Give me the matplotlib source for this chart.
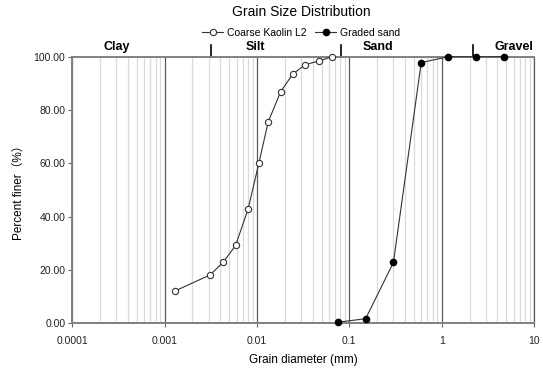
"""Grain size distribution curves (Coarse Kaolin L2 vs graded sand)."""

import matplotlib
matplotlib.use("Agg")
import matplotlib.pyplot as plt
import matplotlib.ticker as ticker
import numpy as np

plt.rcParams["font.family"] = ["Liberation Sans", "Noto Sans CJK SC", "DejaVu Sans"]

# Coarse Kaolin L2 (hydrometer)
kaolin_d = [0.00129, 0.00309, 0.00431, 0.00586, 0.00798, 0.0105,
            0.0132, 0.0180, 0.0245, 0.0333, 0.0471, 0.0652]
kaolin_pf = [12.1, 18.1, 22.9, 29.2, 42.7, 60.2,
             75.5, 86.8, 93.6, 97.0, 98.4, 100.0]

# Graded sand (sieve)
sand_d = [0.075, 0.15, 0.3, 0.6, 1.18, 2.36, 4.75]
sand_pf = [0.4, 1.7, 22.8, 97.8, 100.0, 100.0, 100.0]

# Soil classification zones
zone_names = ["Clay", "Silt", "Sand", "Gravel"]
zone_label_x = [0.000305, 0.0095, 0.203, 6.0]
zone_bounds = [0.0032, 0.082, 2.2]

x_ticks = [0.0001, 0.001, 0.01, 0.1, 1, 10]
x_ticklabels = ["0.0001", "0.001", "0.01", "0.1", "1", "10"]
y_ticks = [0, 20, 40, 60, 80, 100]


def main():
    fig = plt.figure(figsize=(5.5, 3.72), dpi=100)
    ax = fig.add_axes([0.1315, 0.131, 0.8395, 0.7166])

    ax.set_xscale("log")
    ax.set_xlim(0.0001, 10)
    ax.set_ylim(0, 100)

    # gridlines: dark majors, light minors (vertical only)
    ax.xaxis.set_minor_locator(ticker.LogLocator(base=10, subs=np.arange(2, 10)))
    ax.grid(which="major", axis="x", color="#5a5a5a", linewidth=0.9)
    ax.grid(which="minor", axis="x", color="#dadada", linewidth=0.9)
    ax.set_axisbelow(True)

    ax.plot(kaolin_d, kaolin_pf, color="#333333", linewidth=0.8,
            marker="o", markersize=4.5, markerfacecolor="white",
            markeredgecolor="#333333", markeredgewidth=0.8,
            label="Coarse Kaolin L2", clip_on=False, zorder=3)
    ax.plot(sand_d, sand_pf, color="#333333", linewidth=0.8,
            marker="o", markersize=4.5, markerfacecolor="black",
            markeredgecolor="black", label="Graded sand",
            clip_on=False, zorder=3)

    ax.set_xticks(x_ticks)
    ax.set_xticklabels(x_ticklabels)
    ax.xaxis.set_minor_formatter(ticker.NullFormatter())
    ax.set_yticks(y_ticks)
    ax.set_yticklabels([f"{v:.2f}" for v in y_ticks])
    ax.tick_params(axis="both", which="major", labelsize=7.5, length=3,
                   color="#666666", labelcolor="#222222", pad=2)
    ax.tick_params(axis="x", which="major", pad=6)
    ax.tick_params(axis="x", which="minor", length=0)

    for side in ["left", "bottom", "top"]:
        ax.spines[side].set_color("#808080")
        ax.spines[side].set_linewidth(1.4)
    ax.spines["right"].set_color("#5a5a5a")
    ax.spines["right"].set_linewidth(0.9)

    ax.set_xlabel("Grain diameter (mm)", fontsize=8.5, labelpad=6)
    ax.set_ylabel("Percent finer（%）", fontsize=8.5, labelpad=6)

    # zone boundaries and names above the plot
    for b in zone_bounds:
        ax.plot([b, b], [100, 104.5], color="black", linewidth=1.2,
                clip_on=False)
    for name, xl in zip(zone_names, zone_label_x):
        ax.text(xl, 101.5, name, ha="center", va="bottom", fontsize=9,
                fontweight="bold")

    fig.text(0.548, 0.968, "Grain Size Distribution", ha="center",
             va="center", fontsize=10)
    fig.legend(loc="center", bbox_to_anchor=(0.548, 0.911), ncol=2,
               frameon=False, fontsize=7.5, handlelength=2.0,
               columnspacing=0.8, handletextpad=0.4, borderpad=0)

    fig.savefig("out.png", dpi=100)
    plt.close(fig)


if __name__ == "__main__":
    main()
